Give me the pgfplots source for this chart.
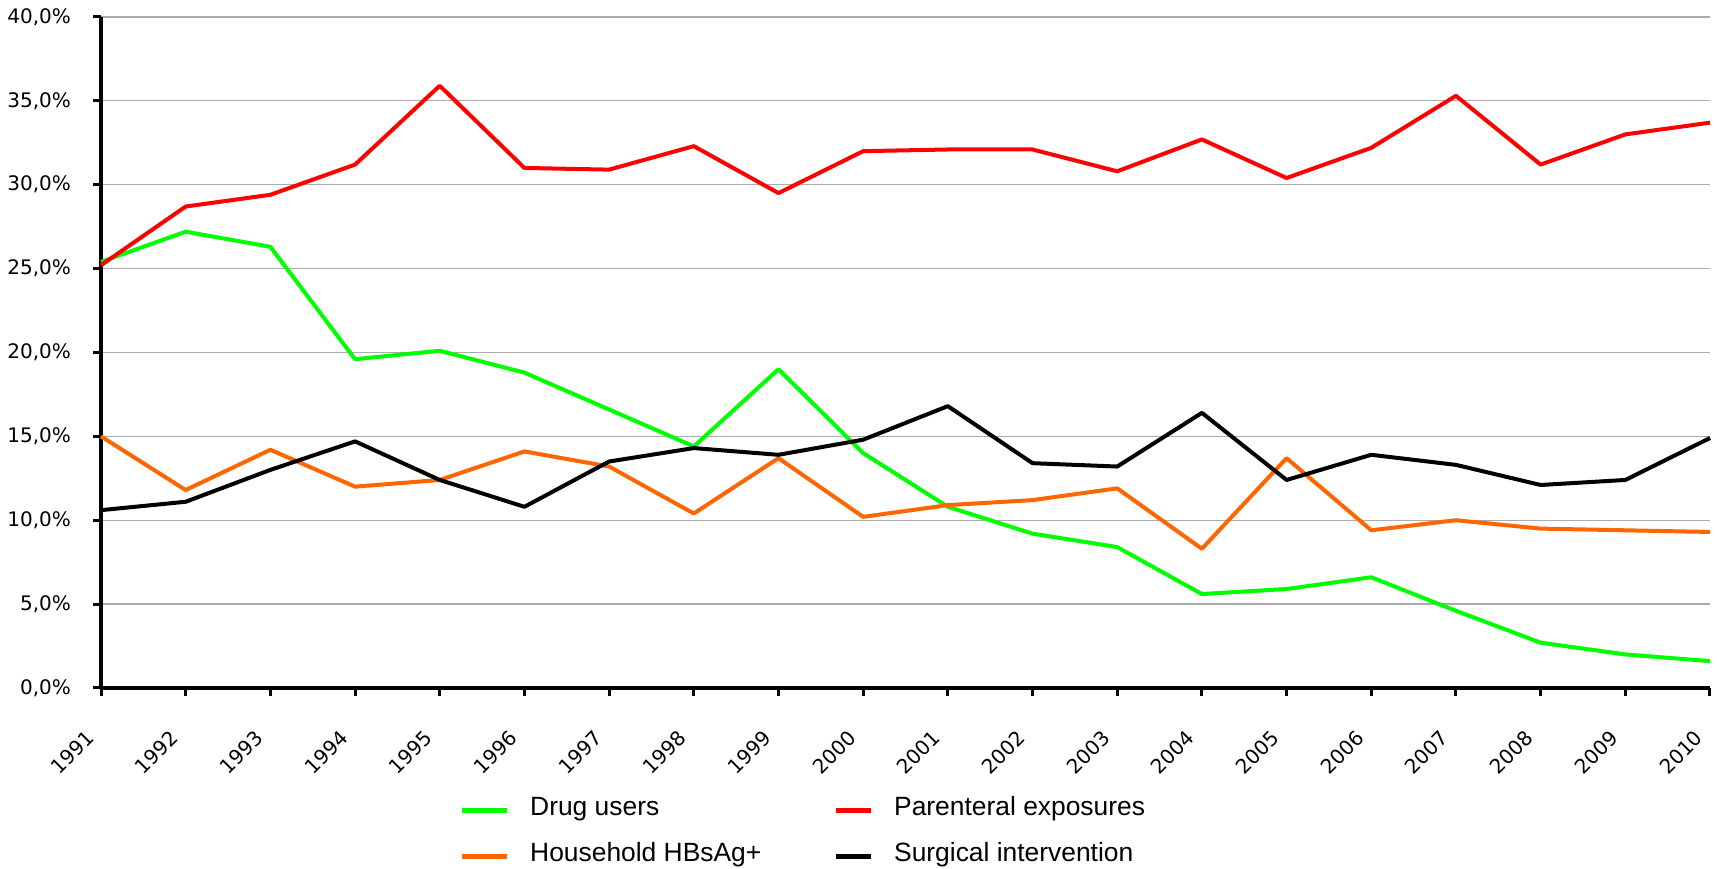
\documentclass[border=0pt]{standalone}
\usepackage{fontspec}
\setmainfont{DejaVu Sans}
\newfontfamily\tickfont{DejaVu Sans}
\newfontfamily\legendfont{Liberation Sans}
\usepackage{pgfplots}
\pgfplotsset{compat=1.18}

\definecolor{drug}{RGB}{0,255,0}
\definecolor{parent}{RGB}{255,0,0}
\definecolor{house}{RGB}{255,102,0}

% legend samples: longer in the first column, shorter in the second
\pgfplotsset{
  longimg/.style={legend image code/.code={\draw[##1, line width=2.4pt] (0pt,-1.5pt) -- (22.5pt,-1.5pt);}},
  shortimg/.style={legend image code/.code={\draw[##1, line width=2.4pt] (0pt,-1.5pt) -- (17.5pt,-1.5pt);}},
}

\begin{document}
\begin{tikzpicture}
\begin{axis}[
  scale only axis, width=804.5pt, height=335.5pt,
  xmin=1991, xmax=2010, ymin=0, ymax=40,
  clip=false,
  axis lines*=left,
  axis line style={line width=1.75pt, black},
  xtick={1991,...,2010}, ytick={0,5,...,40},
  tick align=outside, major tick length=4pt,
  tick style={line width=1.5pt, black},
  ymajorgrids, grid style={black!33, line width=0.6pt},
  /pgf/number format/assume math mode=true,
  /pgf/number format/1000 sep={},
  xticklabel style={xshift=-3pt, yshift=-16.5pt, rotate=45, anchor=east, font=\tickfont\fontsize{10}{12}\selectfont},
  yticklabel style={xshift=-7.5pt, font=\tickfont\fontsize{10}{12}\selectfont},
  yticklabel={\pgfmathprintnumber[fixed,fixed zerofill,precision=1,use comma]{\tick}\%},
  every axis plot/.append style={line width=2pt, line join=round, mark=none},
  legend columns=2,
  legend cell align=left,
  legend style={draw=none, fill=none, inner sep=0pt, at={(0.2225,-0.159)}, anchor=north west,
    font=\legendfont\fontsize{13.2}{15}\selectfont,
    nodes={inner sep=0pt, text height=10pt, text depth=2.5pt},
    row sep=10.5pt, column sep=10.5pt,
    /tikz/every even column/.append style={column sep=36pt}},
]
\coordinate (bbsw) at (rel axis cs:-0.06277,-0.26975);
\coordinate (bbne) at (rel axis cs:1.00435,1.0253);

\addplot[drug, longimg] coordinates {
(1991,25.4) (1992,27.2) (1993,26.3) (1994,19.6) (1995,20.1) (1996,18.8)
(1997,16.6) (1998,14.4) (1999,19.0) (2000,14.0) (2001,10.8) (2002,9.2)
(2003,8.4) (2004,5.6) (2005,5.9) (2006,6.6) (2007,4.6) (2008,2.7)
(2009,2.0) (2010,1.6)};
\addlegendentry{Drug users}

\addplot[parent, shortimg] coordinates {
(1991,25.2) (1992,28.7) (1993,29.4) (1994,31.2) (1995,35.9) (1996,31.0)
(1997,30.9) (1998,32.3) (1999,29.5) (2000,32.0) (2001,32.1) (2002,32.1)
(2003,30.8) (2004,32.7) (2005,30.4) (2006,32.2) (2007,35.3) (2008,31.2)
(2009,33.0) (2010,33.7)};
\addlegendentry{Parenteral exposures}

\addplot[house, longimg] coordinates {
(1991,15.0) (1992,11.8) (1993,14.2) (1994,12.0) (1995,12.4) (1996,14.1)
(1997,13.2) (1998,10.4) (1999,13.7) (2000,10.2) (2001,10.9) (2002,11.2)
(2003,11.9) (2004,8.3) (2005,13.7) (2006,9.4) (2007,10.0) (2008,9.5)
(2009,9.4) (2010,9.3)};
\addlegendentry{Household HBsAg+}

\addplot[black, shortimg] coordinates {
(1991,10.6) (1992,11.1) (1993,13.0) (1994,14.7) (1995,12.4) (1996,10.8)
(1997,13.5) (1998,14.3) (1999,13.9) (2000,14.8) (2001,16.8) (2002,13.4)
(2003,13.2) (2004,16.4) (2005,12.4) (2006,13.9) (2007,13.3) (2008,12.1)
(2009,12.4) (2010,14.9)};
\addlegendentry{Surgical intervention}
\end{axis}
\pgfresetboundingbox
\useasboundingbox (bbsw) rectangle (bbne);
\end{tikzpicture}
\end{document}
